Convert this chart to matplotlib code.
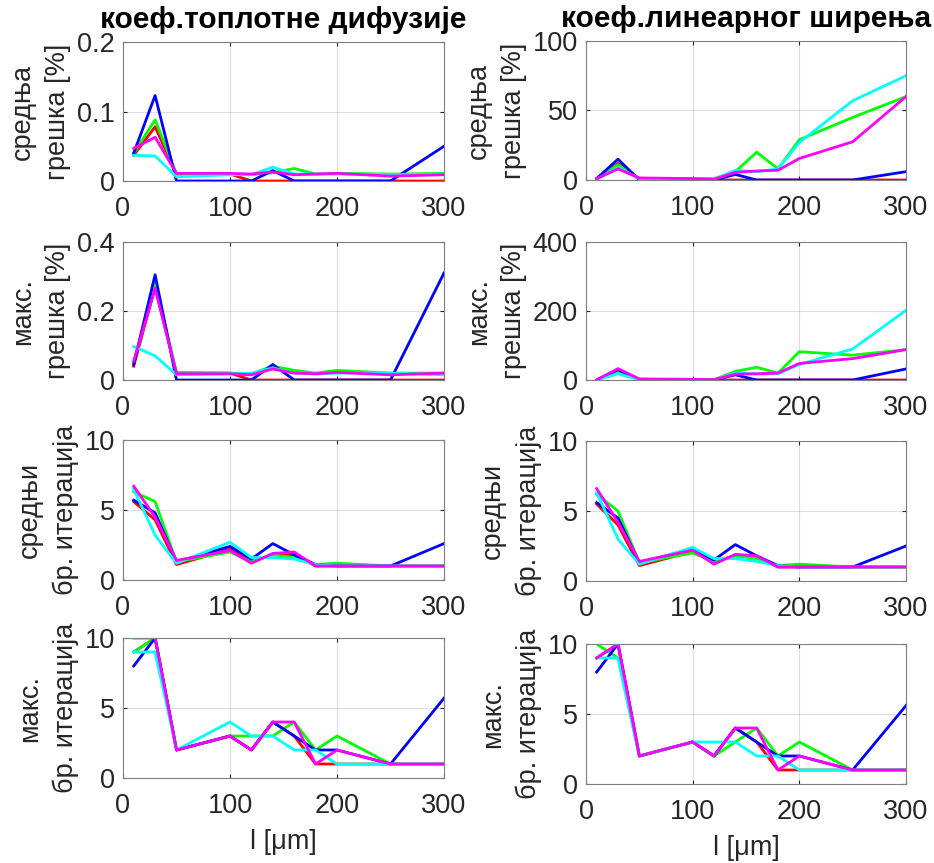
import matplotlib
matplotlib.use("Agg")
import matplotlib.pyplot as plt

plt.rcParams['font.family'] = ['Liberation Sans', 'DejaVu Sans']

# l [um]
l_um = [10, 30, 50, 100, 120, 140, 160, 180, 200, 250, 300]

# --- коеф. топлотне дифузије ---
td_mean_err = {
    'red':     [0.037, 0.078, 0.010, 0.010, 0.0, 0.0, 0.0, 0.0, 0.0, 0.0, 0.0],
    'lime':    [0.040, 0.088, 0.010, 0.010, 0.009, 0.012, 0.018, 0.010, 0.011, 0.010, 0.011],
    'blue':    [0.040, 0.123, 0.0, 0.0, 0.0, 0.015, 0.0, 0.0, 0.0, 0.0, 0.050],
    'cyan':    [0.037, 0.036, 0.006, 0.009, 0.009, 0.020, 0.010, 0.010, 0.010, 0.009, 0.010],
    'magenta': [0.047, 0.063, 0.011, 0.011, 0.010, 0.013, 0.009, 0.010, 0.011, 0.007, 0.009],
}
td_max_err = {
    'red':     [0.040, 0.270, 0.020, 0.020, 0.0, 0.0, 0.0, 0.0, 0.0, 0.0, 0.0],
    'lime':    [0.050, 0.280, 0.022, 0.020, 0.018, 0.040, 0.028, 0.020, 0.028, 0.020, 0.020],
    'blue':    [0.045, 0.305, 0.0, 0.0, 0.0, 0.045, 0.0, 0.0, 0.0, 0.0, 0.310],
    'cyan':    [0.097, 0.070, 0.015, 0.018, 0.020, 0.035, 0.020, 0.018, 0.020, 0.020, 0.015],
    'magenta': [0.055, 0.265, 0.018, 0.018, 0.015, 0.032, 0.020, 0.018, 0.022, 0.015, 0.020],
}
td_mean_it = {
    'red':     [5.6, 4.3, 1.1, 2.2, 1.3, 1.8, 1.8, 1.0, 1.0, 1.0, 1.0],
    'lime':    [6.3, 5.6, 1.3, 2.0, 1.3, 1.8, 1.6, 1.1, 1.2, 1.0, 1.0],
    'blue':    [5.7, 4.8, 1.3, 2.4, 1.5, 2.6, 1.8, 1.1, 1.0, 1.0, 2.6],
    'cyan':    [6.5, 3.2, 1.2, 2.7, 1.6, 1.6, 1.5, 1.1, 1.0, 1.0, 1.0],
    'magenta': [6.7, 4.5, 1.4, 2.1, 1.2, 1.9, 2.0, 1.0, 1.0, 1.0, 1.0],
}
td_max_it = {
    'red':     [9, 10, 2, 3, 2, 4, 3, 1, 1, 1, 1],
    'lime':    [9, 10, 2, 3, 3, 3, 4, 2, 3, 1, 1],
    'blue':    [8, 10, 2, 3, 2, 4, 3, 2, 2, 1, 5.7],
    'cyan':    [9, 9, 2, 4, 3, 3, 2, 2, 1, 1, 1],
    'magenta': [10, 10, 2, 3, 2, 4, 4, 1, 2, 1, 1],
}

# --- коеф. линеарног ширења ---
le_mean_err = {
    'red':     [1, 12, 1, 0.5, 0, 0, 0, 0, 0, 0, 0],
    'lime':    [1, 11, 1, 1, 1, 6, 20, 8, 29, 45, 60],
    'blue':    [1, 15, 0, 0, 0, 4, 0, 0, 0, 0, 6],
    'cyan':    [0.5, 9, 1, 0.5, 0.5, 7, 6, 8, 27, 57, 75],
    'magenta': [1, 8, 1.5, 1, 0.5, 5.5, 6.5, 7, 15.5, 27.5, 60],
}
le_max_err = {
    'red':     [0, 30, 2, 1, 0, 0, 0, 0, 0, 0, 0],
    'lime':    [0, 25, 2, 1, 1, 25, 37, 20, 82, 72, 88],
    'blue':    [0, 30, 0, 0, 0, 15, 0, 0, 0, 0, 32],
    'cyan':    [0, 18, 1, 1, 1, 20, 18, 18, 45, 90, 202],
    'magenta': [0, 33, 3, 2, 1, 17, 18, 20, 48, 62, 88],
}
le_mean_it = {
    'red':     [5.5, 4.0, 1.1, 2.1, 1.4, 1.8, 1.7, 1.0, 1.0, 1.0, 1.0],
    'lime':    [6.2, 5.0, 1.3, 2.0, 1.4, 1.8, 1.6, 1.1, 1.2, 1.0, 1.0],
    'blue':    [5.6, 4.5, 1.3, 2.3, 1.5, 2.6, 1.8, 1.1, 1.0, 1.0, 2.5],
    'cyan':    [6.3, 3.0, 1.2, 2.4, 1.6, 1.6, 1.4, 1.1, 1.0, 1.0, 1.0],
    'magenta': [6.6, 4.2, 1.4, 2.2, 1.2, 1.9, 1.8, 1.0, 1.0, 1.0, 1.0],
}
le_max_it = {
    'red':     [9, 10, 2, 3, 2, 4, 3, 1, 1, 1, 1],
    'lime':    [10, 9, 2, 3, 2, 3, 4, 2, 3, 1, 1],
    'blue':    [8, 10, 2, 3, 2, 4, 3, 2, 2, 1, 5.6],
    'cyan':    [9, 9, 2, 3, 3, 3, 2, 2, 1, 1, 1],
    'magenta': [9, 10, 2, 3, 2, 4, 4, 1, 2, 1, 1],
}

titles = ['коеф.топлотне дифузије', 'коеф.линеарног ширења']
ylabels = ['средња\nгрешка [%]', 'макс.\nгрешка [%]',
           'средњи\nбр. итерација', 'макс.\nбр. итерација']
ylims = [[(0, 0.2), (0, 100)], [(0, 0.4), (0, 400)], [(0, 10), (0, 10)], [(0, 10), (0, 10)]]
yticks = [[[0, 0.1, 0.2], [0, 50, 100]], [[0, 0.2, 0.4], [0, 200, 400]],
          [[0, 5, 10], [0, 5, 10]], [[0, 5, 10], [0, 5, 10]]]
data = [[td_mean_err, le_mean_err], [td_max_err, le_max_err],
        [td_mean_it, le_mean_it], [td_max_it, le_max_it]]

W, H = 934, 863
fig = plt.figure(figsize=(W / 100, H / 100), dpi=100)

# pixel boxes (left, right, top, bottom)
cols = [(123, 444), (586, 906)]
rows = [[(42, 181), (41, 180)], [(242, 380), (242, 380)],
        [(440, 580), (441, 581)], [(638, 778), (644, 784)]]

fs = 19.5
for r in range(4):
    for c in range(2):
        x0, x1 = cols[c]
        t, b = rows[r][c]
        ax = fig.add_axes([x0 / W, 1 - b / H, (x1 - x0) / W, (b - t) / H])
        for color, vals in data[r][c].items():
            ax.plot(l_um, vals, color=color, lw=2)
        ax.set_xlim(0, 300)
        ax.set_xticks([0, 100, 200, 300])
        ax.set_ylim(*ylims[r][c])
        ax.set_yticks(yticks[r][c])
        ax.set_yticklabels([('%g' % v) for v in yticks[r][c]])
        ax.grid(True, color='#262626', alpha=0.15, lw=0.8)
        ax.tick_params(direction='in', labelsize=fs, colors='#262626',
                       top=True, right=True, length=3)
        ax.tick_params(axis='y', pad=6)
        ax.tick_params(axis='x', pad=11)
        for s in ax.spines.values():
            s.set_color('#808080')
        ax.set_ylabel(ylabels[r], fontsize=fs, color='#262626', labelpad=4,
                      linespacing=1.45)
        if r == 0:
            ax.set_title(titles[c], fontsize=21.5, fontweight='bold', pad=10)
        if r == 3:
            ax.set_xlabel('l [μm]', fontsize=fs, color='#262626', labelpad=7)

fig.savefig('out.png', dpi=100)
